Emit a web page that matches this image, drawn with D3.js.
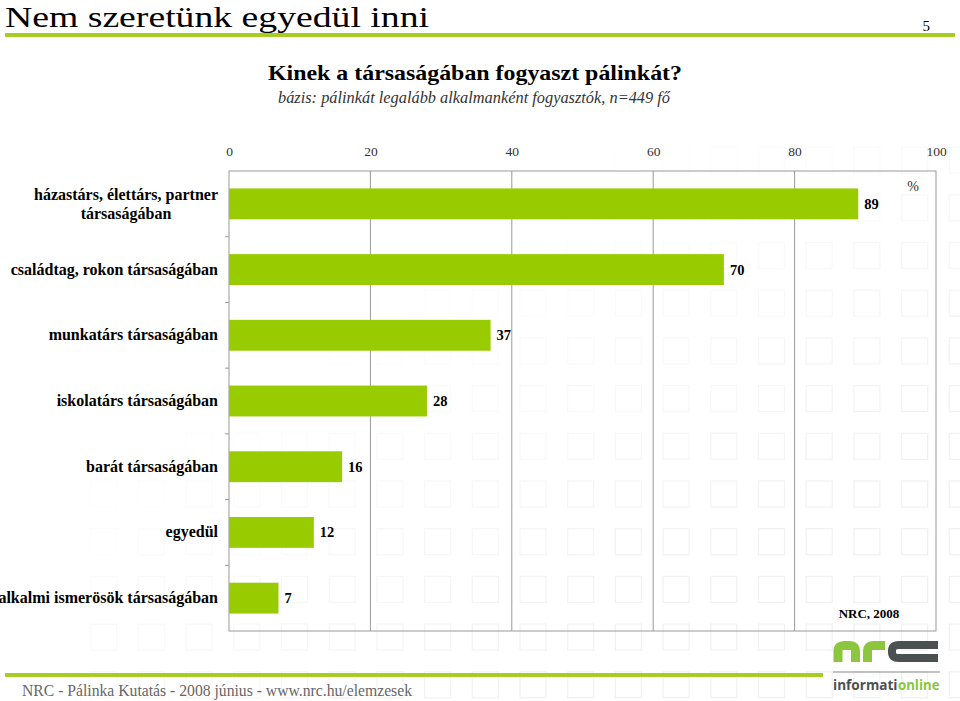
<!DOCTYPE html>
<html><head><meta charset="utf-8">
<script src="https://cdn.jsdelivr.net/npm/d3@7"></script>
<style>body{margin:0;background:#fff}svg{display:block}</style>
</head><body>
<svg id="c" width="960" height="701"></svg>
<script>
const categories = [
  "házastárs, élettárs, partner társaságában",
  "családtag, rokon társaságában",
  "munkatárs társaságában",
  "iskolatárs társaságában",
  "barát társaságában",
  "egyedül",
  "alkalmi ismerösök társaságában"
];
const values = [89, 70, 37, 28, 16, 12, 7];
const tickValues = [0, 20, 40, 60, 80, 100];

const svg = d3.select("#c");
const serif = "'Liberation Serif', 'DejaVu Serif', serif";
const green = "#99cc00";
const lineGreen = "#a7cc22";

// faint background squares
const bg = svg.append("g");
for (let i = -9; i <= 9; i++) {
  for (let j = -7; j <= 4; j++) {
    const x = 520 + i * 47.7, y = 481 + j * 47.7;
    if (x < 85 || y < 140 || x > 960 || y > 701) continue;
    const op = Math.max(0, Math.min(1, (x * 0.6 + y - 480) / 500));
    if (op <= 0) continue;
    bg.append("rect").attr("x", x).attr("y", y).attr("width", 26).attr("height", 26)
      .attr("fill", "none").attr("stroke", "#f1f1f1").attr("stroke-width", 1.2).attr("opacity", op);
  }
}

// header
svg.append("text").attr("x", 5).attr("y", 27).attr("font-family", serif)
  .attr("font-size", 30).attr("fill", "#000")
  .attr("textLength", 424).attr("lengthAdjust", "spacingAndGlyphs").text("Nem szeretünk egyedül inni");
svg.append("text").attr("x", 930).attr("y", 31).attr("text-anchor", "end").attr("font-family", serif)
  .attr("font-size", 15).attr("fill", "#000").text("5");
svg.append("rect").attr("x", 5).attr("y", 33).attr("width", 950).attr("height", 4).attr("fill", lineGreen);

svg.append("text").attr("x", 475).attr("y", 80).attr("text-anchor", "middle").attr("font-family", serif)
  .attr("font-size", 22).attr("font-weight", "bold").attr("fill", "#000")
  .attr("textLength", 414).attr("lengthAdjust", "spacingAndGlyphs").text("Kinek a társaságában fogyaszt pálinkát?");
svg.append("text").attr("x", 474).attr("y", 103).attr("text-anchor", "middle").attr("font-family", serif)
  .attr("font-size", 17).attr("font-style", "italic").attr("fill", "#333")
  .attr("textLength", 392).attr("lengthAdjust", "spacingAndGlyphs").text("bázis: pálinkát legalább alkalmanként fogyasztók, n=449 fő");

// chart
const x = d3.scaleLinear().domain([0, 100]).range([229, 936]);
const y = d3.scaleBand().domain(categories).range([171, 631]).paddingInner(0.53).paddingOuter(0.265);
const axisColor = "#999";

// gridlines
svg.append("g").selectAll("line").data(tickValues.slice(1, -1)).join("line")
  .attr("x1", d => x(d)).attr("x2", d => x(d)).attr("y1", 171).attr("y2", 631)
  .attr("stroke", axisColor).attr("stroke-width", 1);

// border
svg.append("rect").attr("x", x(0)).attr("y", 171).attr("width", x(100) - x(0)).attr("height", 460)
  .attr("fill", "none").attr("stroke", axisColor).attr("stroke-width", 1);

// top axis labels
const ax = svg.append("g").attr("transform", "translate(0,156)")
  .call(d3.axisTop(x).tickValues(tickValues).tickSize(0).tickPadding(0).tickFormat(d3.format("d")));
ax.select(".domain").remove();
ax.selectAll("text").attr("font-family", serif).attr("font-size", 13.5).attr("fill", "#333");

// left category ticks
const step = y.step();
svg.append("g").selectAll("line").data(d3.range(1, categories.length)).join("line")
  .attr("x1", x(0) - 4).attr("x2", x(0)).attr("y1", d => 171 + d * step).attr("y2", d => 171 + d * step)
  .attr("stroke", axisColor);

// bars
svg.append("g").selectAll("rect").data(values).join("rect")
  .attr("x", x(0)).attr("y", (d, i) => y(categories[i])).attr("width", d => x(d) - x(0))
  .attr("height", y.bandwidth()).attr("fill", green);

// value labels
svg.append("g").selectAll("text").data(values).join("text")
  .attr("x", d => x(d) + 6).attr("y", (d, i) => y(categories[i]) + y.bandwidth() / 2 + 5)
  .attr("font-family", serif).attr("font-size", 14.5).attr("font-weight", "bold").attr("fill", "#000")
  .text(d => d);

// category labels
const lab = svg.append("g").attr("font-family", serif).attr("font-size", 16).attr("font-weight", "bold").attr("fill", "#000");
categories.forEach((c, i) => {
  const cy = y(c) + y.bandwidth() / 2;
  if (i === 0) {
    const t1 = lab.append("text").attr("x", 218).attr("y", cy - 4).attr("text-anchor", "end").text("házastárs, élettárs, partner");
    const w = t1.node().getComputedTextLength();
    lab.append("text").attr("x", 218 - w / 2).attr("y", cy + 15).attr("text-anchor", "middle").text("társaságában");
  } else {
    lab.append("text").attr("x", 218).attr("y", cy + 5).attr("text-anchor", "end").text(c);
  }
});

svg.append("text").attr("x", 913).attr("y", 191).attr("text-anchor", "middle").attr("font-family", serif)
  .attr("font-size", 14).attr("fill", "#333").text("%");
svg.append("text").attr("x", 869).attr("y", 618).attr("text-anchor", "middle").attr("font-family", serif)
  .attr("font-size", 13).attr("font-weight", "bold").attr("fill", "#000").text("NRC, 2008");

// footer
svg.append("rect").attr("x", 5).attr("y", 673).attr("width", 818).attr("height", 4).attr("fill", lineGreen);
svg.append("text").attr("x", 22).attr("y", 696).attr("font-family", serif)
  .attr("font-size", 16).attr("fill", "#666")
  .attr("textLength", 390).attr("lengthAdjust", "spacingAndGlyphs").text("NRC - Pálinka Kutatás - 2008 június - www.nrc.hu/elemzesek");

// logo
const lg = svg.append("g");
const lgGreen = "#8cc63f", lgDark = "#4b5050";
lg.append("path").attr("d", "M838 662 V651 Q838 645.5 844 645.5 H850 Q855.5 645.5 855.5 651 V662")
  .attr("fill", "none").attr("stroke", lgGreen).attr("stroke-width", 9);
lg.append("path").attr("d", "M867.5 662 V651 Q867.5 645.5 873 645.5 H885")
  .attr("fill", "none").attr("stroke", lgGreen).attr("stroke-width", 9);
lg.append("path").attr("d", "M938 645 H899 Q892 645 892 651 V652 Q892 658 899 658 H938")
  .attr("fill", "none").attr("stroke", lgDark).attr("stroke-width", 8);
lg.append("line").attr("x1", 833).attr("x2", 940).attr("y1", 672).attr("y2", 672).attr("stroke", "#888").attr("stroke-width", 1.2);
const sans = "'Open Sans', 'DejaVu Sans', sans-serif";
const la = lg.append("text").attr("x", 833).attr("y", 690).attr("font-family", sans).attr("font-size", 14)
  .attr("font-weight", "bold").attr("fill", lgDark).text("informati");
const lb = lg.append("text").attr("y", 690).attr("font-family", sans).attr("font-size", 14)
  .attr("font-weight", "bold").attr("fill", lgGreen).text("online");
const wa = la.node().getComputedTextLength(), wb = lb.node().getComputedTextLength();
const k = 107 / (wa + wb);
la.attr("textLength", wa * k).attr("lengthAdjust", "spacingAndGlyphs");
lb.attr("x", 833 + wa * k + 0.5).attr("textLength", wb * k - 1).attr("lengthAdjust", "spacingAndGlyphs");
</script>
</body></html>
